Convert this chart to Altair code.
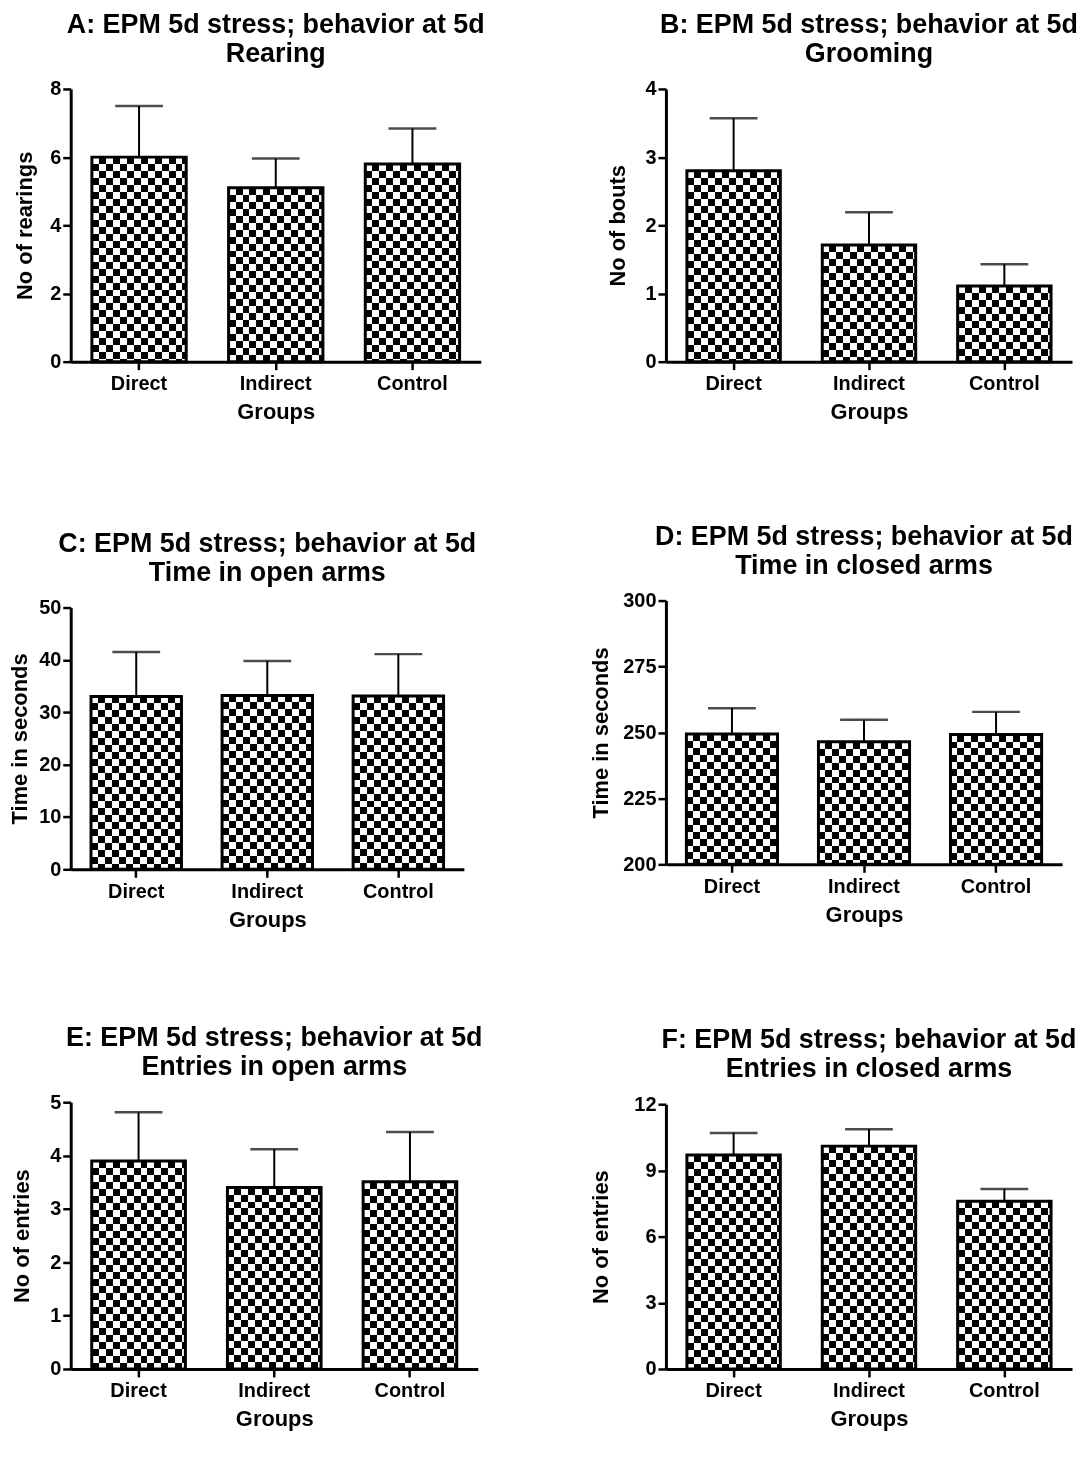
import altair as alt
import pandas as pd

groups = ["Direct", "Indirect", "Control"]

rearing_mean = [6.0, 5.1, 5.8]
rearing_upper = [7.5, 5.96, 6.84]
grooming_mean = [2.8, 1.71, 1.11]
grooming_upper = [3.57, 2.19, 1.43]
open_time_mean = [33.0, 33.2, 33.1]
open_time_upper = [41.5, 39.8, 41.1]
closed_time_mean = [249.4, 246.5, 249.2]
closed_time_upper = [259.2, 254.8, 257.8]
open_entries_mean = [3.9, 3.4, 3.51]
open_entries_upper = [4.81, 4.12, 4.44]
closed_entries_mean = [9.7, 10.1, 7.6]
closed_entries_upper = [10.7, 10.87, 8.16]

FONT = "Liberation Sans"
SQ = 7.0          # checker square size (px)
PAD_IN = 0.31
HEAD = "EPM 5d stress; behavior at 5d"

panels = {
    "A": dict(title="A: " + HEAD, sub="Rearing", ytitle="No of rearings",
              mean=rearing_mean, upper=rearing_upper, domain=[0, 8], ticks=[0, 2, 4, 6, 8],
              w=412, h=274, tp=13),
    "B": dict(title="B: " + HEAD, sub="Grooming", ytitle="No of bouts",
              mean=grooming_mean, upper=grooming_upper, domain=[0, 4], ticks=[0, 1, 2, 3, 4],
              w=408, h=274, tp=15),
    "C": dict(title="C: " + HEAD, sub="Time in open arms", ytitle="Time in seconds",
              mean=open_time_mean, upper=open_time_upper, domain=[0, 50], ticks=[0, 10, 20, 30, 40, 50],
              w=395, h=263, tp=7),
    "D": dict(title="D: " + HEAD, sub="Time in closed arms", ytitle="Time in seconds",
              mean=closed_time_mean, upper=closed_time_upper, domain=[200, 300], ticks=[200, 225, 250, 275, 300],
              w=398, h=265, tp=10),
    "E": dict(title="E: " + HEAD, sub="Entries in open arms", ytitle="No of entries",
              mean=open_entries_mean, upper=open_entries_upper, domain=[0, 5], ticks=[0, 1, 2, 3, 4, 5],
              w=409, h=268, tp=16),
    "F": dict(title="F: " + HEAD, sub="Entries in closed arms", ytitle="No of entries",
              mean=closed_entries_mean, upper=closed_entries_upper, domain=[0, 12], ticks=[0, 3, 6, 9, 12],
              w=408, h=266, tp=21),
}


def stripes(length, first="black", second="white"):
    stops = []
    k = 0
    while k * SQ < length:
        c = first if k % 2 == 0 else second
        a = k * SQ / length
        b = min(1.0, (k + 1) * SQ / length)
        stops.append(alt.GradientStop(offset=a, color=c))
        stops.append(alt.GradientStop(offset=b, color=c))
        k += 1
    return stops


def make_panel(p):
    df = pd.DataFrame({
        "group": groups,
        "mean": p["mean"],
        "upper": p["upper"],
        "base": [p["domain"][0]] * len(groups),
    })
    base = alt.Chart(df)
    xscale = alt.Scale(domain=groups, paddingInner=PAD_IN, paddingOuter=PAD_IN / 2)
    xaxis = alt.Axis(title="Groups", labelAngle=0, labelAlign="center", labelBaseline="top",
                     labelPadding=4, titlePadding=8)
    x = alt.X("group:N", sort=groups, scale=xscale, axis=xaxis)
    yscale = alt.Scale(domain=p["domain"], nice=False, zero=False)
    yaxis = alt.Axis(values=p["ticks"], title=p["ytitle"], format="d", labelPadding=2,
                     titlePadding=p["tp"])
    y = alt.Y("mean:Q", scale=yscale, axis=yaxis)

    dmin, dmax = p["domain"]
    bar_w = p["w"] / 3.0 * (1 - PAD_IN)
    vgrad = alt.LinearGradient(gradient="linear", stops=stripes(bar_w), x1=0, y1=0, x2=1, y2=0)

    rule = base.mark_rule(color="black", strokeWidth=2).encode(
        x=x, y=y, y2="upper:Q")
    layers = [rule]
    layers.append(base.mark_bar(fill=vgrad, strokeWidth=0).encode(x=x, y=y, y2="base:Q"))
    for g, m in zip(groups, p["mean"]):
        bar_h = (m - dmin) / (dmax - dmin) * p["h"]
        hgrad = alt.LinearGradient(gradient="linear", stops=stripes(bar_h, "white", "black"),
                                   x1=0, y1=0, x2=0, y2=1)
        layers.append(
            base.transform_filter(alt.datum.group == g)
            .mark_bar(fill=hgrad, strokeWidth=0, blend="difference")
            .encode(x=x, y=y, y2="base:Q")
        )
    layers.append(base.mark_bar(fillOpacity=0, stroke="black", strokeWidth=3).encode(
        x=x, y=y, y2="base:Q"))
    layers.append(base.mark_tick(color="black", thickness=2.5, size=48).encode(
        x=x, y=alt.Y("upper:Q", scale=yscale, axis=yaxis)))
    return alt.layer(*layers).properties(
        width=p["w"], height=p["h"],
        title=alt.TitleParams(text=p["title"], subtitle=p["sub"],
                              fontSize=27, font=FONT, fontWeight="bold", color="black",
                              subtitleFontSize=27, subtitleFont=FONT, subtitleFontWeight="bold",
                              subtitleColor="black", subtitlePadding=2,
                              anchor="middle", offset=11),
    )


left = alt.vconcat(
    make_panel(panels["A"]),
    alt.vconcat(make_panel(panels["C"]), make_panel(panels["E"]), spacing=95),
    spacing=108,
)
right = alt.vconcat(
    make_panel(panels["B"]),
    alt.vconcat(make_panel(panels["D"]), make_panel(panels["F"]), spacing=102),
    spacing=101,
)

chart = alt.hconcat(left, right, spacing=104).properties(
    padding={"left": 0, "top": 0, "right": 0, "bottom": 0}
).configure(
    background="white"
).configure_view(stroke=None).configure_axis(
    domainColor="black", domainWidth=3, tickColor="black", tickWidth=2.5, tickSize=8,
    grid=False, labelFont=FONT, labelFontWeight="bold", labelFontSize=20, labelColor="black",
    titleFont=FONT, titleFontWeight="bold", titleFontSize=22, titleColor="black",
)

chart.save("out.html", embed_options={"renderer": "svg", "actions": False})
